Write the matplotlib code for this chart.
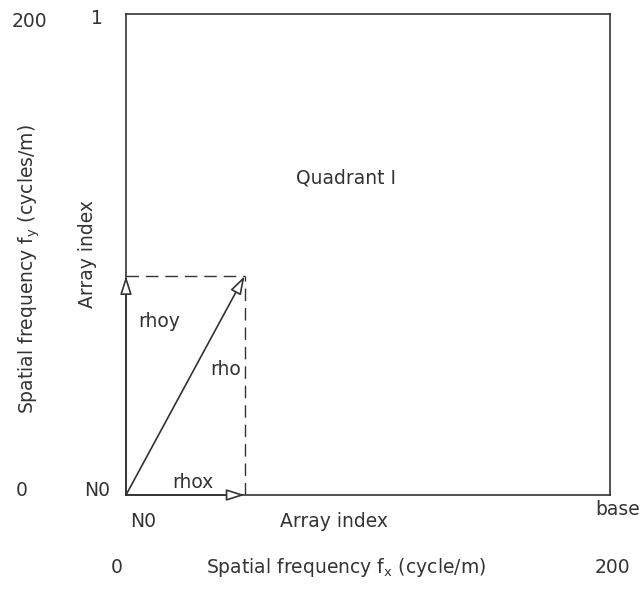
import matplotlib.pyplot as plt

# Quadrant I layout, spatial frequency 0..200 on both axes
f_max = 200
rho_x = 49   # x component of the rho vector
rho_y = 91   # y component of the rho vector

ink = '#333333'
plt.rcParams['font.family'] = 'DejaVu Sans'

fig = plt.figure(figsize=(6.4, 5.89), dpi=100)
ax = fig.add_axes([126 / 640, 1 - 495 / 589, 484 / 640, 481 / 589])
ax.set_xlim(0, f_max)
ax.set_ylim(0, f_max)
ax.set_xticks([])
ax.set_yticks([])
for s in ax.spines.values():
    s.set_color(ink)
    s.set_linewidth(1.2)

# dashed projection lines
ax.plot([rho_x, rho_x], [0, rho_y], color=ink, lw=1.0, ls=(0, (9, 5)))
ax.plot([0, rho_x], [rho_y, rho_y], color=ink, lw=1.0, ls=(0, (9, 5)))

# vectors with open arrow heads
arr = dict(arrowstyle='-|>,head_length=1.1,head_width=0.35', fc='white', ec=ink, lw=1.2,
           shrinkA=0, shrinkB=0)
ax.annotate('', xy=(rho_x, 0), xytext=(0, 0), arrowprops=arr)
ax.annotate('', xy=(0, rho_y), xytext=(0, 0), arrowprops=arr)
ax.annotate('', xy=(rho_x, rho_y), xytext=(0, 0), arrowprops=arr)

fs = 13.5
kw = dict(color=ink, fontsize=fs, clip_on=False)
ax.text(5, 72, 'rhoy', ha='left', va='center', **kw)
ax.text(35, 52, 'rho', ha='left', va='center', **kw)
ax.text(19, 5, 'rhox', ha='left', va='center', **kw)
ax.text(91, 132, 'Quadrant I', ha='center', va='center', **kw)

# tick-like labels
ax.text(-40, 197, '200', ha='center', va='center', **kw)
ax.text(-12, 198, '1', ha='center', va='center', **kw)
ax.text(-43, 2, '0', ha='center', va='center', **kw)
ax.text(-12, 2, 'N0', ha='center', va='center', **kw)
ax.text(7, -11, 'N0', ha='center', va='center', **kw)
ax.text(86, -11, 'Array index', ha='center', va='center', **kw)
ax.text(203, -6, 'base', ha='center', va='center', **kw)
ax.text(-4, -30, '0', ha='center', va='center', **kw)
ax.text(91, -30, 'Spatial frequency f$_\\mathregular{x}$ (cycle/m)', ha='center', va='center', **kw)
ax.text(201, -30, '200', ha='center', va='center', **kw)

ax.text(-40, 94, 'Spatial frequency f$_\\mathregular{y}$ (cycles/m)', ha='center', va='center',
        rotation=90, **kw)
ax.text(-16, 100, 'Array index', ha='center', va='center', rotation=90, **kw)

fig.savefig('out.png', dpi=100, facecolor='white')
